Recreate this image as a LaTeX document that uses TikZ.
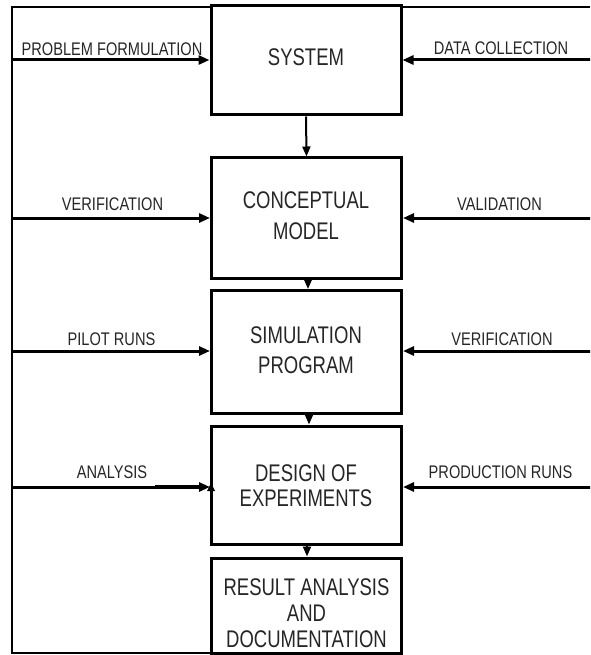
\documentclass[tikz,border=0pt]{standalone}
\usepackage{fontspec}
\usepackage{graphicx}
\setmainfont{Liberation Sans}
\usetikzlibrary{arrows.meta}
\newcommand{\bxt}[1]{\scalebox{1}[1.3]{\fontsize{18.5}{20}\selectfont\begin{tabular}{@{}c@{}}#1\end{tabular}}}
\newcommand{\lbt}[1]{\scalebox{1}[1.25]{\fontsize{14.6}{16}\selectfont #1}}
\tikzset{
  blk/.style={draw, line width=3pt, minimum width=190pt, inner sep=0pt, align=center},
  harr/.style={line width=3pt, -{Triangle[length=11pt,width=9pt]}},
  varr/.style={line width=2pt, -{Triangle[length=10pt,width=8pt]}},
  frame/.style={line width=1.6pt},
  lbl/.style={inner sep=0pt, text=black!85}
}
\begin{document}
\begin{tikzpicture}[x=1pt,y=-1pt]
\useasboundingbox (0,0) rectangle (590,655);
\fill[white] (0,0) rectangle (590,655);
\begin{scope}
\clip (0,0) rectangle (590,655);
% boxes
\node[blk, minimum height=109pt] (sys) at (306,60.5) {};
\node[blk, minimum height=120pt] (con) at (306.5,218) {};
\node[blk, minimum height=123pt] (sim) at (306.5,352) {};
\node[blk, minimum height=118pt] (doe) at (306.5,485) {};
\node[blk, minimum height=95pt] (res) at (306.5,605.5) {};
\node[lbl] (syst) at (306,60.5) {\bxt{SYSTEM}};
\node[lbl] (cont) at (306,219) {\bxt{CONCEPTUAL\\[4.3pt]MODEL}};
\node[lbl] (simt) at (306,353) {\bxt{SIMULATION\\[3pt]PROGRAM}};
\node[lbl] (doet) at (306,488.5) {\bxt{DESIGN OF\\[-0.8pt]EXPERIMENTS}};
\node[lbl] (rest) at (306.5,616) {\bxt{RESULT ANALYSIS\\[0pt]AND\\[0pt]DOCUMENTATION}};
% frame
\coordinate (ftl) at (12,7);
\coordinate (fbl) at (12,653);
\coordinate (ftr) at (590,7);
\draw[frame] (sys.north west |- ftl) -- (ftl) -- (fbl) -- (res.south west |- fbl);
\draw[frame] (sys.north east |- ftr) -- (ftr);
% left inputs
\coordinate (l1) at (12,60);
\coordinate (l2) at (12,218);
\coordinate (l3) at (12,351);
\coordinate (l4) at (12,487);
\draw[harr] (l1) -- (sys.west |- l1);
\draw[harr] (l2) -- (con.west |- l2);
\draw[harr] (l3) -- (sim.west |- l3);
\draw[harr] (l4) -- (doe.west |- l4);
% right inputs
\coordinate (r1) at (592,60);
\coordinate (r2) at (592,218);
\coordinate (r3) at (592,351);
\coordinate (r4) at (592,487);
\draw[harr] (r1) -- (sys.east |- r1);
\draw[harr] (r2) -- (con.east |- r2);
\draw[harr] (r3) -- (sim.east |- r3);
\draw[harr] (r4) -- (doe.east |- r4);
% vertical flow
\draw[varr] (sys.south) -- (con.north);
\draw[varr] ([xshift=1.5pt]con.south) -- ([xshift=1.5pt]sim.north);
\draw[varr] ([xshift=2.5pt]sim.south) -- ([xshift=2.5pt]doe.north);
\draw[varr] ([xshift=0.5pt]doe.south) -- ([xshift=0.5pt]res.north);
% small stray tip at the analysis arrow
\fill (211,483) -- (207,491) -- (215,491) -- cycle;
\draw[line width=4pt] (155,487) -- (200,487);
% labels
\node[lbl] (t1) at (112,49) {\lbt{PROBLEM FORMULATION}};
\node[lbl] (t2) at (501,48) {\lbt{DATA COLLECTION}};
\node[lbl] (t3) at (112.5,204) {\lbt{VERIFICATION}};
\node[lbl] (t4) at (499.5,204) {\lbt{VALIDATION}};
\node[lbl] (t5) at (111.5,339) {\lbt{PILOT RUNS}};
\node[lbl] (t6) at (502,339) {\lbt{VERIFICATION}};
\node[lbl] (t7) at (112,472) {\lbt{ANALYSIS}};
\node[lbl] (t8) at (500.5,472) {\lbt{PRODUCTION RUNS}};
\end{scope}
\end{tikzpicture}
\end{document}
